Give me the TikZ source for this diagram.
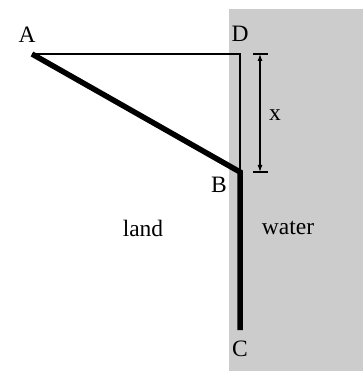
\documentclass[tikz,border=0pt]{standalone}
\usepackage{fontspec}
\setmainfont{Liberation Serif}
\usetikzlibrary{arrows.meta}
\begin{document}
\begin{tikzpicture}[x=1pt,y=-1pt,
  lbl/.style={inner sep=0pt,font=\fontsize{23.5}{23.5}\selectfont},
  thickline/.style={line width=5.5pt},
  thinline/.style={line width=1.5pt},
  dimline/.style={line width=1.1pt}]
\useasboundingbox (0,0) rectangle (363,371);
\fill[gray!40] (229,9) rectangle (363,371);
\coordinate (A) at (32,54);
\coordinate (D) at (240,54);
\coordinate (B) at (240,172);
\coordinate (C) at (240,330);
\draw[thinline] (A) -- (D) -- (B);
\draw[thickline,line join=miter] (A) -- (B) -- (C);
\coordinate (t1) at (260,54);
\coordinate (t2) at (260,172);
\draw[dimline] ([xshift=-7pt]t1) -- ([xshift=8pt]t1);
\draw[dimline] ([xshift=-7pt]t2) -- ([xshift=8pt]t2);
\draw[dimline,{Latex[length=7pt,width=5pt]}-{Latex[length=7pt,width=5pt]}] (t1) -- (t2);
\node[lbl] (lA) at (27,35) {A};
\node[lbl] (lD) at (240,34) {D};
\node[lbl] (lB) at (219,185) {B};
\node[lbl] (lC) at (240,349) {C};
\node[lbl] (lx) at (275,115) {x};
\node[lbl] (land) at (143,228) {land};
\node[lbl] (water) at (288,228) {water};
\end{tikzpicture}
\end{document}
